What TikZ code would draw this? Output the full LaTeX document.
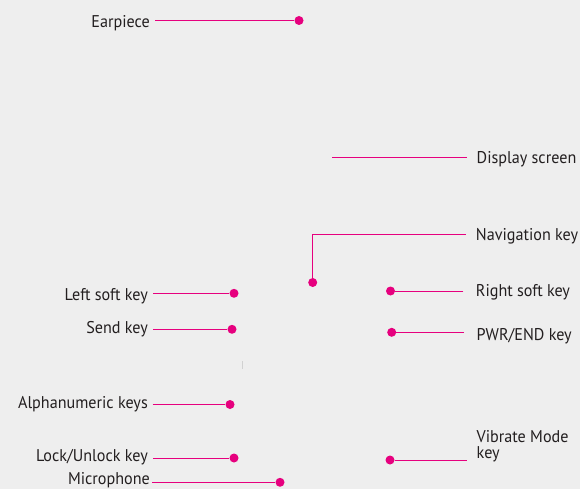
\documentclass[tikz,border=0pt]{standalone}
\usepackage{fontspec}
\setmainfont{PT Sans}[FakeStretch=0.95]
\usetikzlibrary{calc}
\definecolor{bg}{HTML}{EEEEEE}
\definecolor{mag}{HTML}{E6007E}
\definecolor{ink}{HTML}{231F20}
\begin{document}
\begin{tikzpicture}[x=1pt,y=-1pt,
  lab/.style={inner sep=0pt,font=\fontsize{17}{15.5}\selectfont,text=ink},
  labL/.style={lab,anchor=base east},
  labR/.style={lab,anchor=base west,align=left},
  lead/.style={draw=mag,line width=0.9pt},
  dot/.style={circle,fill=mag,inner sep=0pt,minimum size=9pt}]
\fill[bg] (0,0) rectangle (580,489);
\useasboundingbox (0,0) rectangle (580,489);
% left side labels
\node[labL] (ear) at (150,27.5) {Earpiece};
\node[dot] (earD) at (299,20.5) {};
\draw[lead] ($(ear.east |- earD)+(5,0)$) -- (earD);

\node[labL] (lsk) at (148,300) {Left soft key};
\node[dot] (lskD) at (234,293.3) {};
\draw[lead] ($(lsk.east |- lskD)+(5,0)$) -- (lskD);

\node[labL] (snd) at (148,333.3) {Send key};
\node[dot] (sndD) at (232,329.3) {};
\draw[lead] ($(snd.east |- sndD)+(5,0)$) -- (sndD);

\node[labL] (alp) at (148,408) {Alphanumeric keys};
\node[dot] (alpD) at (230,404.5) {};
\draw[lead] ($(alp.east |- alpD)+(4.5,0)$) -- (alpD);

\node[labL] (lck) at (148,461.7) {Lock/Unlock key};
\node[dot] (lckD) at (234,458) {};
\draw[lead] ($(lck.east |- lckD)+(5,0)$) -- (lckD);

\node[labL] (mic) at (150,484) {Microphone};
\node[dot] (micD) at (280,482.3) {};
\draw[lead] ($(mic.east |- micD)+(2,0)$) -- (micD);

% right side labels
\node[labR] (dsp) at (476.5,163.3) {Display screen};
\coordinate (dspE) at (332,157.3);
\draw[lead] ($(dsp.west |- dspE)+(-10,0)$) -- (dspE);

\node[labR] (nav) at (475.7,240.7) {Navigation key};
\node[dot] (navD) at (312.7,282.5) {};
\coordinate (navC) at (312.7,234.3);
\draw[lead] ($(nav.west |- navC)+(-10,0)$) -- (navC) -- (navD);

\node[labR] (rsk) at (475.7,296.3) {Right soft key};
\node[dot] (rskD) at (390.5,291) {};
\draw[lead] ($(rsk.west |- rskD)+(-12.4,0)$) -- (rskD);

\node[labR] (pwr) at (476.5,340.5) {PWR/END key};
\node[dot] (pwrD) at (391.7,332.3) {};
\draw[lead] ($(pwr.west |- pwrD)+(-13,0)$) -- (pwrD);

\node[labR] (vib) at (476.5,458) {Vibrate Mode\\key};
\node[dot] (vibD) at (390,460) {};
\draw[lead] ($(vib.west |- vibD)+(-10,0)$) -- (vibD);

% faint mark
\draw[black!18,line width=1pt] (242,361) -- (242,369);
\end{tikzpicture}
\end{document}
